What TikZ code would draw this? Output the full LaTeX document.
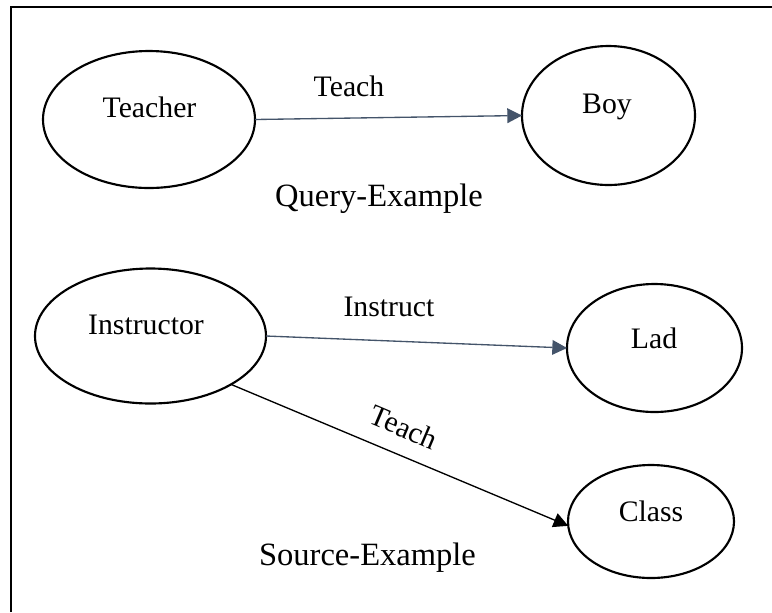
\documentclass[tikz,border=0pt]{standalone}
\usepackage{fontspec}
\setmainfont{Liberation Serif}
\usetikzlibrary{shapes.geometric,arrows.meta}
\definecolor{slate}{HTML}{44546A}
\begin{document}
\begin{tikzpicture}[x=0.75pt,y=-0.75pt,
  entity/.style={draw=black,line width=1.6pt,ellipse,inner sep=0pt,outer sep=0pt},
  word/.style={font=\fontsize{22.3}{27}\selectfont,inner sep=0pt,anchor=base},
  caption/.style={font=\fontsize{24.4}{29}\selectfont,inner sep=0pt,anchor=base},
  relation/.style={line width=1pt,-{Triangle[length=11pt,width=11pt]}},
]
\useasboundingbox (0,0) rectangle (772,612);
% frame
\draw[line width=1.5pt] (11,612) -- (11,7) -- (772,7);

% entities
\node[entity,minimum width=212pt*0.75,minimum height=137pt*0.75] (teacher) at (149,119.5) {};
\node[entity,minimum width=173pt*0.75,minimum height=139pt*0.75] (boy) at (608.5,115.5) {};
\node[entity,minimum width=231pt*0.75,minimum height=135pt*0.75] (instructor) at (150.5,336) {};
\node[entity,minimum width=175pt*0.75,minimum height=128pt*0.75] (lad) at (654.5,348) {};
\node[entity,minimum width=166pt*0.75,minimum height=113pt*0.75] (class) at (651,521.5) {};

% entity names
\node[word] (teacher-name) at (149.5,117) {Teacher};
\node[word] (boy-name) at (607,113) {Boy};
\node[word] (instructor-name) at (146,334) {Instructor};
\node[word] (lad-name) at (654,348) {Lad};
\node[word] (class-name) at (651,521) {Class};

% relations
\draw[relation,slate] (teacher.east) -- (boy.west);
\draw[relation,slate] (instructor.east) -- (lad.west);
\draw[relation,black] (instructor.-31) -- (class.183);

\node[word] (teach-top) at (349,96) {Teach};
\node[word] (instruct) at (389,316) {Instruct};
\node[word,anchor=center,rotate=-23] (teach-low) at (404,427) {Teach};

% captions
\node[caption] (query) at (379,206) {Query-Example};
\node[caption] (source) at (367.5,565) {Source-Example};
\end{tikzpicture}
\end{document}
